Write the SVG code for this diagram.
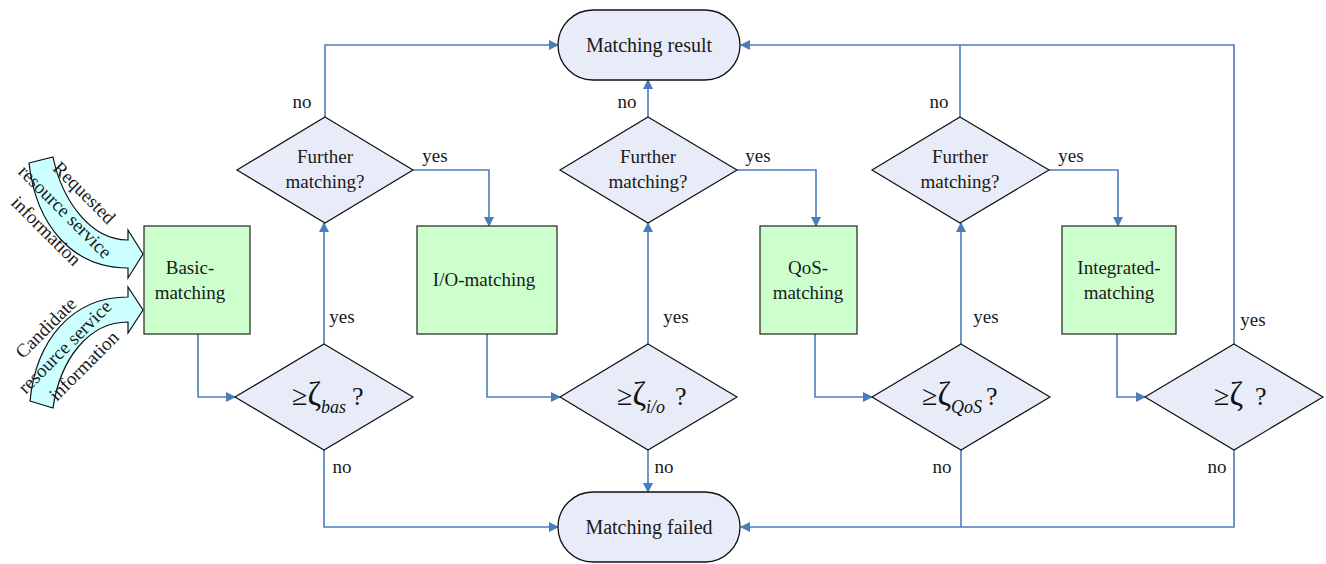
<svg xmlns="http://www.w3.org/2000/svg" width="1326" height="564" viewBox="0 0 1326 564">
<style>
.t{font-family:"Liberation Serif","Times New Roman",serif;fill:#1a1a1a;text-anchor:middle}
.n{font-size:19px}
.lb{font-size:19px}
.big{font-size:20px}
.rect{fill:#ccffcc;stroke:#222;stroke-width:1.2}
.dia{fill:#e8ecf8;stroke:#111;stroke-width:1.2}
.term{fill:#e8ecf8;stroke:#111;stroke-width:1.3}
.c{fill:none;stroke:#4a7ebb;stroke-width:1.6}
.in{fill:#ccffff;stroke:#111;stroke-width:1.2}
.th{font-family:"Liberation Serif","Times New Roman",serif;fill:#111}
.z{font-size:33px}
.sub{font-size:18px;font-style:italic}
.q{font-size:26px}
</style>
<defs>
<marker id="ah" markerWidth="10" markerHeight="10" refX="9" refY="5" orient="auto" markerUnits="userSpaceOnUse">
<path d="M0,0 L10,5 L0,10 Z" fill="#4a7ebb"/>
</marker>
</defs>

<g id="connectors">
<path class="c" d="M198,334 V397 H235" marker-end="url(#ah)"/>
<path class="c" d="M324,344 V223" marker-end="url(#ah)"/>
<path class="c" d="M325,117 V45 H558" marker-end="url(#ah)"/>
<path class="c" d="M413,170 H489 V226" marker-end="url(#ah)"/>
<path class="c" d="M324,450 V527 H558" marker-end="url(#ah)"/>
<path class="c" d="M487,334 V397 H560" marker-end="url(#ah)"/>
<path class="c" d="M648,344 V223" marker-end="url(#ah)"/>
<path class="c" d="M648,117 V80" marker-end="url(#ah)"/>
<path class="c" d="M737,170 H816 V226" marker-end="url(#ah)"/>
<path class="c" d="M648,450 V492" marker-end="url(#ah)"/>
<path class="c" d="M815,334 V397 H872" marker-end="url(#ah)"/>
<path class="c" d="M961,344 V223" marker-end="url(#ah)"/>
<path class="c" d="M960,117 V45"/>
<path class="c" d="M1049,170 H1118 V226" marker-end="url(#ah)"/>
<path class="c" d="M961,450 V527"/>
<path class="c" d="M1117,334 V397 H1145" marker-end="url(#ah)"/>
<path class="c" d="M1234,344 V45 H741" marker-end="url(#ah)"/>
<path class="c" d="M1234,450 V527 H741" marker-end="url(#ah)"/>
<text class="t lb" x="302" y="108">no</text>
<text class="t lb" x="435" y="162">yes</text>
<text class="t lb" x="342" y="323">yes</text>
<text class="t lb" x="342" y="473">no</text>
<text class="t lb" x="627" y="108">no</text>
<text class="t lb" x="758" y="162">yes</text>
<text class="t lb" x="676" y="323">yes</text>
<text class="t lb" x="664" y="473">no</text>
<text class="t lb" x="939" y="108">no</text>
<text class="t lb" x="1071" y="162">yes</text>
<text class="t lb" x="986" y="323">yes</text>
<text class="t lb" x="942" y="473">no</text>
<text class="t lb" x="1253" y="326">yes</text>
<text class="t lb" x="1217" y="473">no</text>
</g>

<g id="input-requested">
<path class="in" d="M29,163 L53,157 C62,200 90,240 128,240 L128,230 L143,254 L128,278 L128,268 C72,268 36,225 29,163 Z"/>
<g transform="translate(65,212) rotate(45)">
<text class="t n" x="0" y="-21" font-size="20">Requested</text>
<text class="t n" x="0" y="6">resource service</text>
<text class="t n" x="0" y="33">information</text>
</g>
</g>

<g id="input-candidate">
<path class="in" d="M30,401 L53,408 C60,360 88,322 128,322 L128,333 L143,310 L128,287 L128,297 C72,297 36,340 30,401 Z"/>
<g transform="translate(65,347) rotate(-45)">
<text class="t n" x="0" y="-21">Candidate</text>
<text class="t n" x="0" y="6">resource service</text>
<text class="t n" x="0" y="33">information</text>
</g>
</g>

<g id="matching-result">
<rect class="term" x="558" y="10" width="182" height="70" rx="35"/>
<text class="t big" x="649" y="52">Matching result</text>
</g>
<g id="matching-failed">
<rect class="term" x="558" y="492" width="182" height="70" rx="35"/>
<text class="t big" x="649" y="534">Matching failed</text>
</g>

<g id="basic-matching">
<rect class="rect" x="144" y="226" width="106" height="108"/>
<text class="t n" x="190" y="274">Basic-</text>
<text class="t n" x="190" y="299">matching</text>
</g>
<g id="io-matching">
<rect class="rect" x="417" y="226" width="140" height="108"/>
<text class="t n" x="484" y="286">I/O-matching</text>
</g>
<g id="qos-matching">
<rect class="rect" x="760" y="226" width="97" height="108"/>
<text class="t n" x="808" y="274">QoS-</text>
<text class="t n" x="808" y="299">matching</text>
</g>
<g id="integrated-matching">
<rect class="rect" x="1062" y="226" width="114" height="108"/>
<text class="t n" x="1119" y="274">Integrated-</text>
<text class="t n" x="1119" y="299">matching</text>
</g>

<g id="further-1">
<polygon class="dia" points="325,117 413,170 325,223 237,170"/>
<text class="t n" x="325" y="163">Further</text>
<text class="t n" x="325" y="188">matching?</text>
</g>
<g id="further-2">
<polygon class="dia" points="648,117 737,170 648,223 560,170"/>
<text class="t n" x="648" y="163">Further</text>
<text class="t n" x="648" y="188">matching?</text>
</g>
<g id="further-3">
<polygon class="dia" points="960,117 1049,170 960,223 872,170"/>
<text class="t n" x="960" y="163">Further</text>
<text class="t n" x="960" y="188">matching?</text>
</g>

<g id="check-bas">
<polygon class="dia" points="324,344 413,397 324,450 235,397"/>
<text class="th" x="292" y="405" font-size="28">≥<tspan class="z">ζ</tspan><tspan class="sub" dy="8">bas</tspan><tspan class="q" dy="-8" dx="6">?</tspan></text>
</g>
<g id="check-io">
<polygon class="dia" points="648,344 737,397 648,450 560,397"/>
<text class="th" x="617" y="405" font-size="28">≥<tspan class="z">ζ</tspan><tspan class="sub" dy="8">i/o</tspan><tspan class="q" dy="-8" dx="10">?</tspan></text>
</g>
<g id="check-qos">
<polygon class="dia" points="961,344 1050,397 961,450 872,397"/>
<text class="th" x="922" y="405" font-size="28">≥<tspan class="z">ζ</tspan><tspan class="sub" dy="8">QoS</tspan><tspan class="q" dy="-8" dx="4">?</tspan></text>
</g>
<g id="check-all">
<polygon class="dia" points="1234,344 1323,397 1234,450 1145,397"/>
<text class="th" x="1214" y="405" font-size="28">≥<tspan class="z">ζ</tspan><tspan class="q" dx="12">?</tspan></text>
</g>
</svg>
